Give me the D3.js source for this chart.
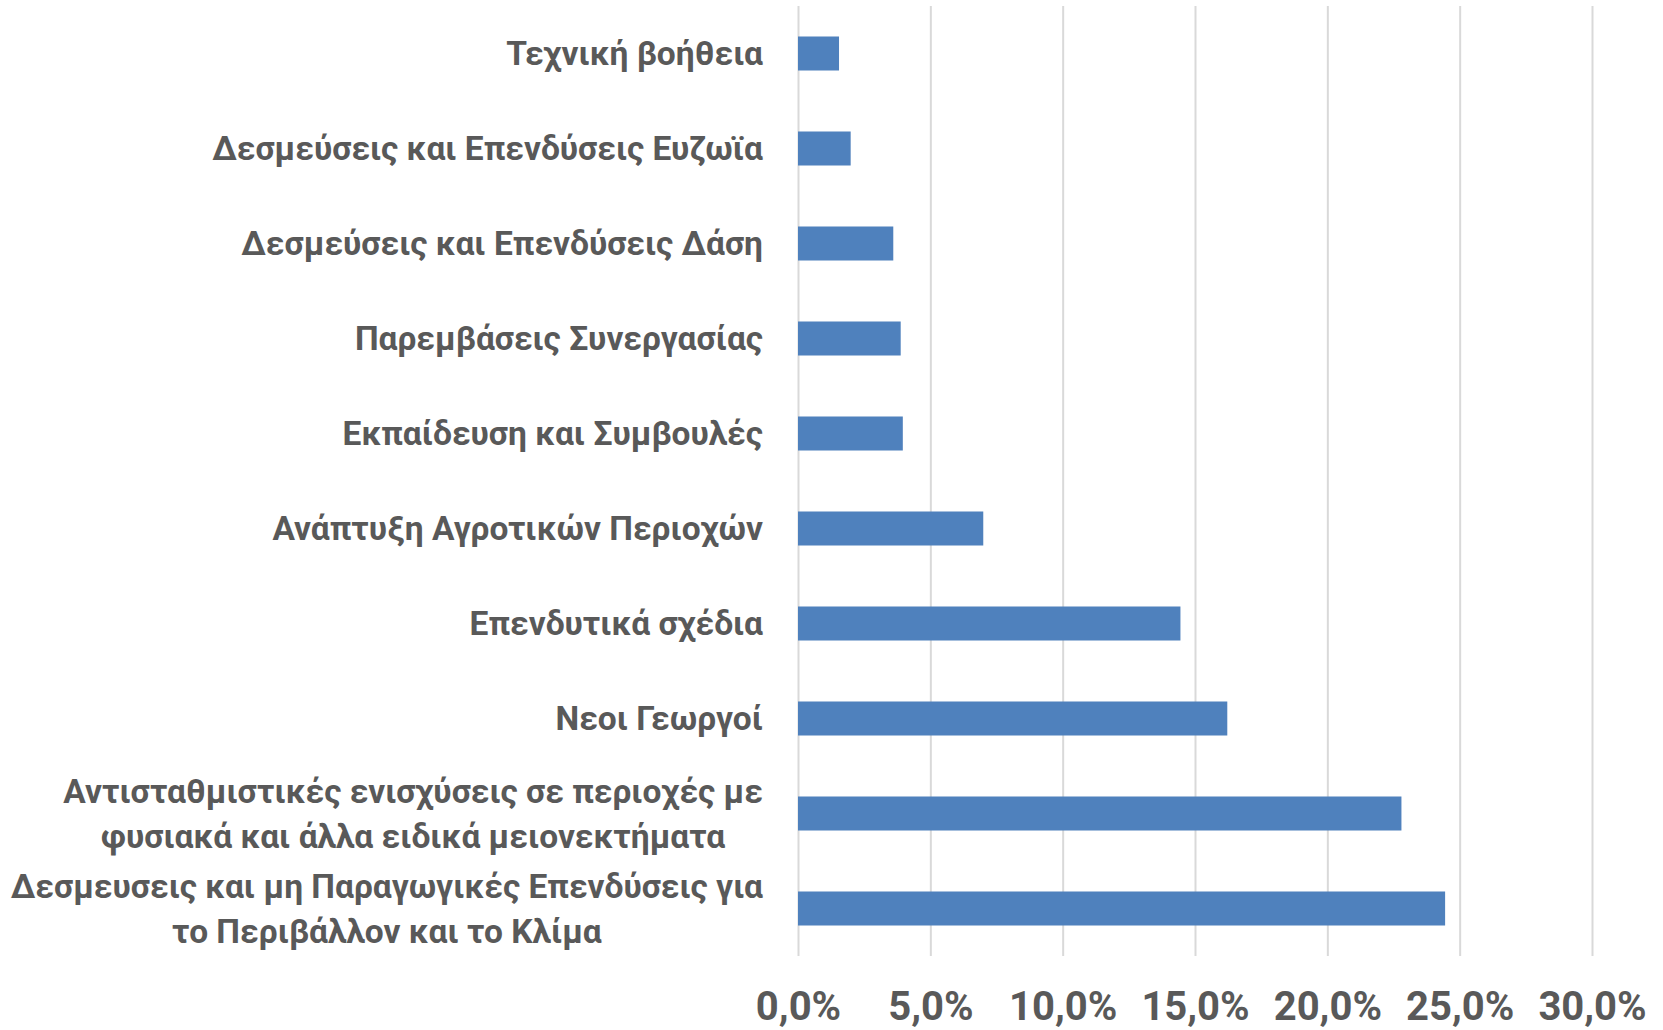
<!DOCTYPE html>
<html>
<head>
<meta charset="utf-8">
<script src="https://cdn.jsdelivr.net/npm/d3@7"></script>
<style>
  body { margin: 0; background: #fff; }
  .grid line { stroke: #d9d9d9; stroke-width: 2; }
  .grid .domain { display: none; }
  .grid text { fill: #595959; font-family: Roboto, sans-serif; font-weight: bold; font-size: 40px; }
  .cat { fill: #595959; font-family: Roboto, sans-serif; font-weight: bold; font-size: 33.5px; }
</style>
</head>
<body>
<div class="chart"></div>
<script>
// κατηγορίες (από πάνω προς τα κάτω) και ποσοστά
var categories = [
    ["Τεχνική βοήθεια"],
    ["Δεσμεύσεις και Επενδύσεις Ευζωϊα"],
    ["Δεσμεύσεις και Επενδύσεις Δάση"],
    ["Παρεμβάσεις Συνεργασίας"],
    ["Εκπαίδευση και Συμβουλές"],
    ["Ανάπτυξη Αγροτικών Περιοχών"],
    ["Επενδυτικά σχέδια"],
    ["Νεοι Γεωργοί"],
    ["Αντισταθμιστικές ενισχύσεις σε περιοχές με", "φυσιακά και άλλα ειδικά μειονεκτήματα"],
    ["Δεσμευσεις και μη Παραγωγικές Επενδύσεις για", "το Περιβάλλον και το Κλίμα"]
];
var values = [1.55, 1.99, 3.6, 3.88, 3.96, 7.0, 14.45, 16.22, 22.8, 24.45];
var xTicks = [0, 5, 10, 15, 20, 25, 30];

var margin = { top: 6, right: 71, bottom: 74, left: 798 },
    width = 1663 - margin.left - margin.right,
    height = 1030 - margin.top - margin.bottom;

var svg = d3.select('.chart')
    .append('svg')
    .attr("width", width + margin.left + margin.right)
    .attr("height", height + margin.top + margin.bottom)
    .append("g")
    .attr("transform", "translate(" + margin.left + "," + margin.top + ")");

var x = d3.scaleLinear()
    .domain([0, 30])
    .range([0, width]);

var y = d3.scaleBand()
    .domain(d3.range(categories.length))
    .range([0, height])
    .paddingInner(0.642)
    .paddingOuter(0.321);

var xAxis = d3.axisBottom(x)
    .tickValues(xTicks)
    .tickSize(-height)
    .tickPadding(36)
    .tickFormat(function(d) { return d3.format(".1f")(d).replace(".", ",") + "%"; });

svg.append("g")
    .attr("class", "grid")
    .attr("transform", "translate(0," + height + ")")
    .call(xAxis);

svg.selectAll(".bar")
    .data(values)
    .enter().append("rect")
    .attr("class", "bar")
    .attr("x", x(0))
    .attr("y", function(d, i) { return y(i); })
    .attr("width", function(d) { return x(d) - x(0); })
    .attr("height", y.bandwidth())
    .attr("fill", "#4f81bd");

// ετικέτες κατηγοριών: στοιχισμένες δεξιά, γραμμές κεντραρισμένες μεταξύ τους
var lineH = 45;
var labelRight = -35;
categories.forEach(function(lines, i) {
    var cy = y(i) + y.bandwidth() / 2;
    var t = svg.append("text")
        .attr("class", "cat")
        .attr("text-anchor", "middle");
    var spans = lines.map(function(s, k) {
        return t.append("tspan")
            .attr("dy", "0.35em")
            .attr("y", cy + (k - (lines.length - 1) / 2) * lineH)
            .text(s);
    });
    var maxW = d3.max(spans, function(s) { return s.node().getComputedTextLength(); });
    spans.forEach(function(s) { s.attr("x", labelRight - maxW / 2); });
});
</script>
</body>
</html>
